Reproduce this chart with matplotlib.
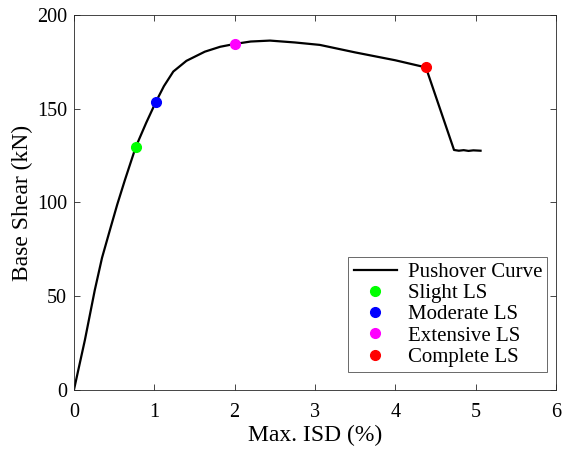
import numpy as np
import matplotlib.pyplot as plt

plt.rcParams['font.family'] = ['Liberation Serif', 'DejaVu Serif']

# pushover curve (Max. ISD %, base shear kN)
isd = [0, 0.137, 0.26, 0.35, 0.448, 0.54, 0.635, 0.77, 0.9, 1.02, 1.12,
       1.237, 1.4, 1.63, 1.82, 2.0, 2.2, 2.44, 2.75, 3.06, 3.5, 4.0, 4.38,
       4.73, 4.79, 4.85, 4.91, 4.97, 5.06]
shear = [0, 26.7, 53.3, 70.5, 85.3, 99, 112, 129.6, 142.5, 153.6, 162,
         169.8, 175.5, 180.4, 183, 184.5, 185.8, 186.3, 185.3, 184, 180, 175.8,
         172, 128, 127.6, 127.9, 127.5, 127.8, 127.6]

ls_names = ['Slight LS', 'Moderate LS', 'Extensive LS', 'Complete LS']
ls_isd = [0.77, 1.02, 2.0, 4.38]
ls_shear = [129.6, 153.6, 184.5, 172]
ls_colors = ['#00ff00', '#0000ff', '#ff00ff', '#ff0000']

fig = plt.figure(figsize=(5.64, 4.51), dpi=100)
ax = fig.add_axes([0.131, 0.135, 0.855, 0.832])

ax.plot(isd, shear, color='black', lw=1.6, label='Pushover Curve', zorder=2)
for n, xx, yy, c in zip(ls_names, ls_isd, ls_shear, ls_colors):
    ax.plot(xx, yy, 'o', color=c, ms=7, label=n, zorder=3, linestyle='none')

ax.set_xlim(0, 6)
ax.set_ylim(0, 200)
ax.set_xticks(np.arange(0, 7, 1))
ax.set_yticks(np.arange(0, 201, 50))
ax.tick_params(direction='in', top=True, right=True, labelsize=14.5, length=4,
               width=0.6, colors='#262626', labelcolor='black', pad=5)
ax.tick_params(axis='x', pad=9)
for s in ax.spines.values():
    s.set_linewidth(0.6)
    s.set_color('#262626')
ax.set_xlabel('Max. ISD (%)', fontsize=17, labelpad=2)
ax.set_ylabel('Base Shear (kN)', fontsize=17, labelpad=3)

leg = ax.legend(loc='lower right', fontsize=15, frameon=True, fancybox=False,
                edgecolor='#262626', borderpad=0.25, handlelength=2.1,
                labelspacing=0.08, handletextpad=0.5, borderaxespad=0,
                bbox_to_anchor=(0.982, 0.048))
leg.get_frame().set_linewidth(0.6)

fig.savefig('out.png', dpi=100)
